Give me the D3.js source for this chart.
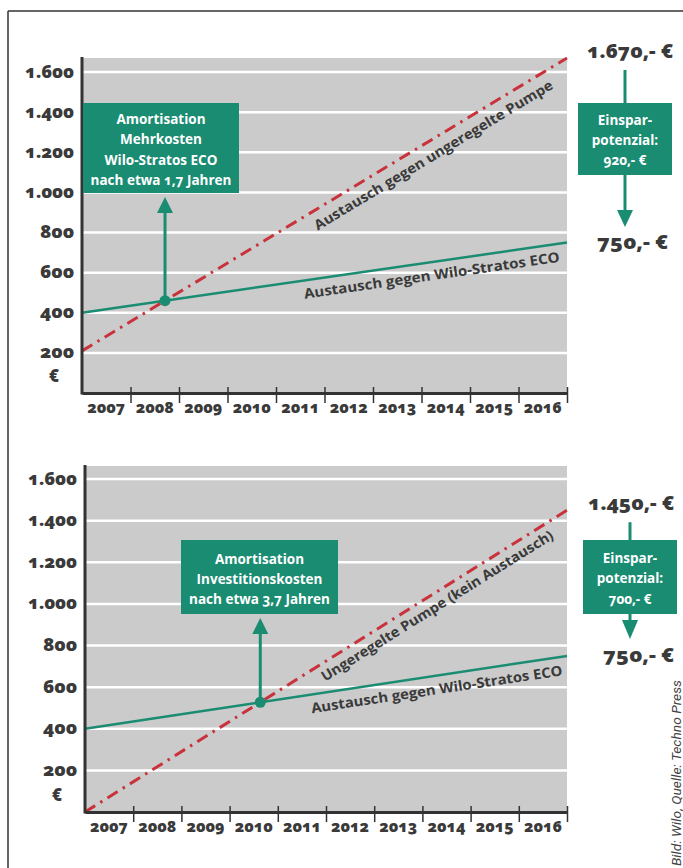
<!DOCTYPE html>
<html><head><meta charset="utf-8">
<script src="https://cdn.jsdelivr.net/npm/d3@7"></script>
<style>
html,body{margin:0;padding:0;background:#fff;}
svg{display:block;}
text{font-family:"Open Sans","Lato","DejaVu Sans",sans-serif;font-weight:700;font-variant-numeric:oldstyle-nums;}
</style></head>
<body>
<svg id="c" width="683" height="868"></svg>
<script>
// ---- data ----
const years = ["2007","2008","2009","2010","2011","2012","2013","2014","2015","2016"];
const yTicks = [200,400,600,800,1000,1200,1400,1600];
// values at start (2007) and end (2016)
const ecoTop = [400, 750];
const redTop = [210, 1670];
const ecoBottom = [400, 750];
const redBottom = [0, 1450];
const boxTopLines = ["Amortisation","Mehrkosten","Wilo-Stratos ECO","nach etwa 1,7 Jahren"];
const boxBottomLines = ["Amortisation","Investitionskosten","nach etwa 3,7 Jahren"];
const saveTopLines = ["Einspar-","potenzial:","920,- €"];
const saveBottomLines = ["Einspar-","potenzial:","700,- €"];
const endTop = ["1.670,- €","750,- €"];
const endBottom = ["1.450,- €","750,- €"];
const labelsTop = ["Austausch gegen ungeregelte Pumpe","Austausch gegen Wilo-Stratos ECO"];
const labelsBottom = ["Ungeregelte Pumpe (kein Austausch)","Austausch gegen Wilo-Stratos ECO"];

const GREEN = "#1a8c72", RED = "#c9323b", GRAY = "#cbcbcb", INK = "#3a3a3a";
const svg = d3.select("#c");
const fmt = v => d3.format(",")(v).replace(/,/g, ".");

// frame
svg.append("line").attr("x1",8).attr("x2",683).attr("y1",11).attr("y2",11).attr("stroke","#333").attr("stroke-width",1.5);
svg.append("line").attr("x1",8).attr("x2",8).attr("y1",11).attr("y2",868).attr("stroke","#333").attr("stroke-width",1.5);

function panel(cfg){
  const g = svg.append("g");
  const x = d3.scaleLinear().domain([0,10]).range([cfg.x0, cfg.x1]);
  const y = d3.scaleLinear().domain([0,1600]).range([cfg.yZero, cfg.y1600]);
  // background
  g.append("rect").attr("x",x(0)).attr("y",cfg.plotTop).attr("width",x(10)-x(0)).attr("height",y(0)-cfg.plotTop).attr("fill",GRAY);
  // grid
  g.selectAll(".grid").data(yTicks).join("line")
    .attr("x1",x(0)).attr("x2",x(10)).attr("y1",d=>y(d)).attr("y2",d=>y(d))
    .attr("stroke","#fff").attr("stroke-width",2.5);
  // y axis labels
  const ya = d3.axisLeft(y).tickValues(yTicks).tickFormat(fmt).tickSize(0).tickPadding(8);
  const yg = g.append("g").attr("transform",`translate(${x(0)},0)`).call(ya);
  yg.select(".domain").remove();
  yg.selectAll("text").attr("font-size",17).attr("fill",INK).attr("dy","0.3em")
    .style("font-family","'Open Sans',sans-serif").style("font-weight","800")
    .attr("textLength",d=>d>=1000?49:34).attr("lengthAdjust","spacingAndGlyphs");
  g.append("text").attr("x",cfg.x0-28).attr("y",y(0)-11).attr("text-anchor","middle")
    .attr("font-size",17).attr("fill",INK).style("font-weight","800").text("€");
  // lines
  const line = d3.line().x(d=>x(d[0])).y(d=>y(d[1]));
  g.append("path").datum([[0,cfg.eco[0]],[10,cfg.eco[1]]]).attr("d",line)
    .attr("stroke",GREEN).attr("stroke-width",2.5).attr("fill","none");
  g.append("path").datum([[0,cfg.red[0]],[10,cfg.red[1]]]).attr("d",line)
    .attr("stroke",RED).attr("stroke-width",3).attr("fill","none")
    .attr("stroke-dasharray","12,6,2.5,6");
  // x axis
  const xa = d3.axisBottom(x).tickValues(d3.range(1,11)).tickFormat("").tickSizeInner(10).tickSizeOuter(0);
  const xg = g.append("g").attr("transform",`translate(0,${y(0)})`).call(xa);
  xg.select(".domain").attr("stroke","#333").attr("stroke-width",3);
  xg.selectAll(".tick line").attr("y1",-6).attr("stroke","#333").attr("stroke-width",1.5);
  g.append("line").attr("x1",x(0)).attr("x2",x(0)).attr("y1",cfg.plotTop-1).attr("y2",y(0)+1.5)
    .attr("stroke","#333").attr("stroke-width",3);
  g.selectAll(".yr").data(years).join("text")
    .attr("x",(d,i)=>x(i+0.5)).attr("y",y(0)+20).attr("text-anchor","middle")
    .attr("font-size",15).attr("fill",INK).style("font-weight","800")
    .attr("textLength",38).attr("lengthAdjust","spacingAndGlyphs").text(d=>d);

  // rotated labels
  function rotLabel(vals, t, off, txt, len){
    const ang = Math.atan2(y(vals[1])-y(vals[0]), x(10)-x(0))*180/Math.PI;
    const v = vals[0] + (vals[1]-vals[0])*t/10;
    g.append("text").attr("transform",`translate(${x(t)},${y(v)}) rotate(${ang})`)
      .attr("x",0).attr("y",off).attr("font-size",14).attr("fill",INK)
      .attr("textLength",len).attr("lengthAdjust","spacingAndGlyphs").text(txt);
  }
  rotLabel(cfg.red, cfg.redT, cfg.redOff, cfg.labels[0], cfg.redLen);
  rotLabel(cfg.eco, cfg.ecoT, cfg.ecoOff, cfg.labels[1], cfg.ecoLen);

  // amortisation marker (intersection)
  const sg = (cfg.eco[1]-cfg.eco[0])/10, sr = (cfg.red[1]-cfg.red[0])/10;
  const ti = (cfg.eco[0]-cfg.red[0])/(sr-sg);
  const vi = cfg.eco[0] + sg*ti;
  const mx = x(ti), my = y(vi);
  g.append("line").attr("x1",mx).attr("x2",mx).attr("y1",my).attr("y2",cfg.box.y1+18)
    .attr("stroke",GREEN).attr("stroke-width",3);
  g.append("path").attr("d",`M${mx-8},${cfg.box.y1+20} L${mx},${cfg.box.y1+4} L${mx+8},${cfg.box.y1+20} Z`).attr("fill",GREEN);
  g.append("circle").attr("cx",mx).attr("cy",my).attr("r",5.5).attr("fill",GREEN);
  // box
  const b = cfg.box;
  g.append("rect").attr("x",b.x0).attr("y",b.y0).attr("width",b.x1-b.x0).attr("height",b.y1-b.y0).attr("fill",GREEN);
  g.selectAll(".bt").data(cfg.boxLines).join("text")
    .attr("x",(b.x0+b.x1)/2).attr("y",(d,i)=>b.ty + i*b.lh).attr("text-anchor","middle")
    .attr("font-size",13.5).attr("fill","#fff").text(d=>d);

  // right annotation
  const r = cfg.rbox, cx = (r.x0+r.x1)/2;
  g.append("text").attr("x",r.tx0).attr("y",y(cfg.red[1])+0).attr("text-anchor","start")
    .attr("font-size",19).attr("fill",INK).style("font-weight","800")
    .attr("textLength",86).attr("lengthAdjust","spacingAndGlyphs").text(cfg.ends[0]);
  g.append("text").attr("x",r.tx1).attr("y",y(cfg.eco[1])+6).attr("text-anchor","start")
    .attr("font-size",19).attr("fill",INK).style("font-weight","800")
    .attr("textLength",71).attr("lengthAdjust","spacingAndGlyphs").text(cfg.ends[1]);
  g.append("line").attr("x1",cx).attr("x2",cx).attr("y1",y(cfg.red[1])+12).attr("y2",r.y0)
    .attr("stroke",GREEN).attr("stroke-width",3);
  g.append("line").attr("x1",cx).attr("x2",cx).attr("y1",r.y1).attr("y2",r.ah0+2)
    .attr("stroke",GREEN).attr("stroke-width",3);
  g.append("path").attr("d",`M${cx-8},${r.ah0} L${cx},${r.ah1} L${cx+8},${r.ah0} Z`).attr("fill",GREEN);
  g.append("rect").attr("x",r.x0).attr("y",r.y0).attr("width",r.x1-r.x0).attr("height",r.y1-r.y0).attr("fill",GREEN);
  g.selectAll(".rt").data(cfg.saveLines).join("text")
    .attr("x",cx).attr("y",(d,i)=>r.ty + i*r.lh).attr("text-anchor","middle")
    .attr("font-size",13.5).attr("fill","#fff").text(d=>d);
}

panel({x0:82,x1:567,yZero:393,y1600:72,plotTop:58,eco:ecoTop,red:redTop,labels:labelsTop,
  redT:4.66,redOff:19,redLen:276,ecoT:4.54,ecoOff:18,ecoLen:258,
  box:{x0:83,x1:239,y0:103,y1:193,ty:124,lh:20.3},boxLines:boxTopLines,
  rbox:{x0:578,x1:672,y0:103,y1:175,ty:124.5,lh:20,ah0:210,ah1:227,tx0:587,tx1:597},saveLines:saveTopLines,ends:endTop});
panel({x0:85,x1:567,yZero:812,y1600:479,plotTop:466,eco:ecoBottom,red:redBottom,labels:labelsBottom,
  redT:4.79,redOff:17,redLen:271,ecoT:4.65,ecoOff:18.5,ecoLen:254,
  box:{x0:181,x1:338,y0:540,y1:614,ty:563.5,lh:20},boxLines:boxBottomLines,
  rbox:{x0:583,x1:677,y0:540,y1:614,ty:562.5,lh:20.5,ah0:620,ah1:639,tx0:588,tx1:603},saveLines:saveBottomLines,ends:endBottom});

// credit
svg.append("text").attr("transform","translate(681,866) rotate(-90)")
  .attr("font-size",12.5).attr("fill","#444")
  .style("font-family","'Liberation Sans Narrow','Roboto','Liberation Sans',sans-serif")
  .style("font-weight","400").style("font-style","italic")
  .attr("textLength",186).attr("lengthAdjust","spacingAndGlyphs")
  .text("Bild: Wilo, Quelle: Techno Press");
</script>
</body></html>
